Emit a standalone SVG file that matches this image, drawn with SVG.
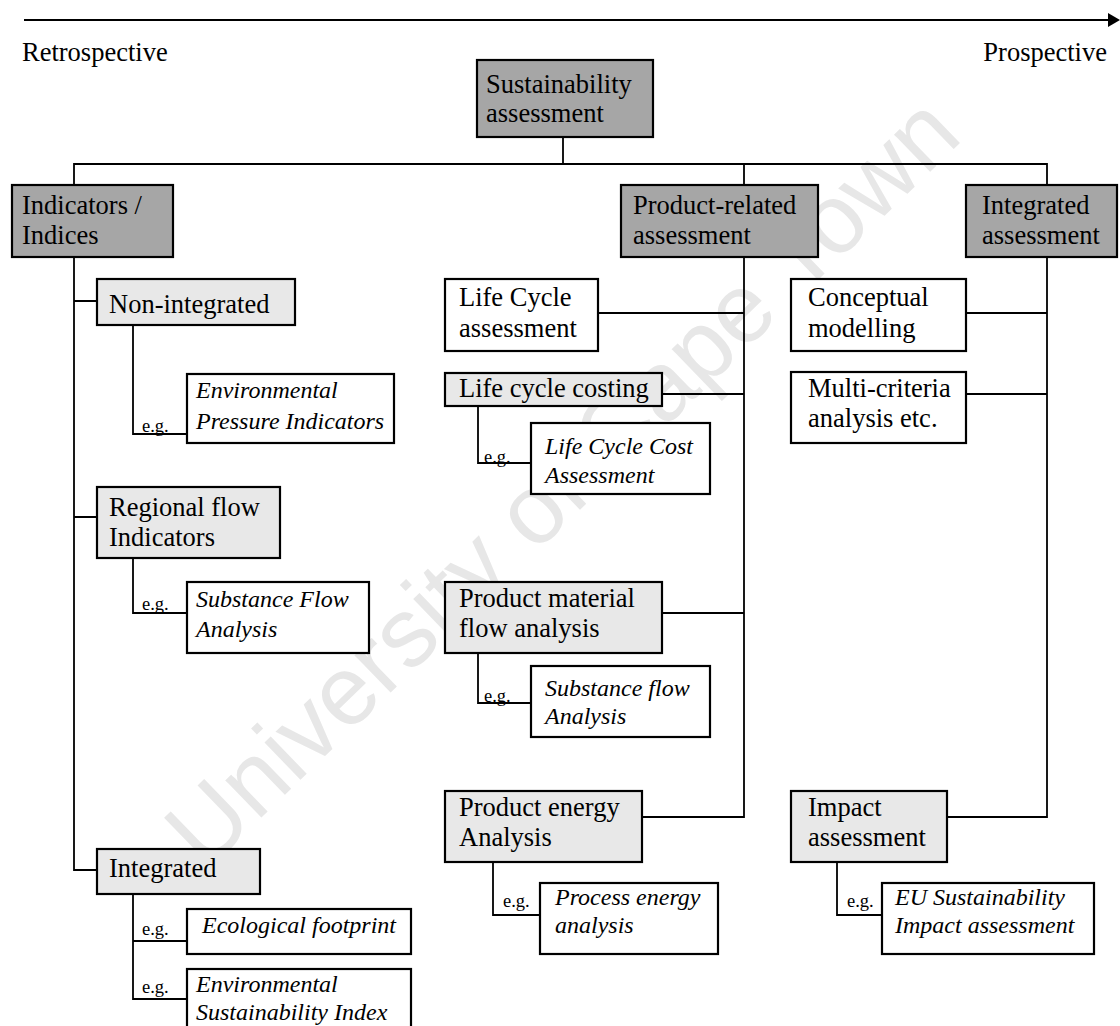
<svg xmlns="http://www.w3.org/2000/svg" width="1120" height="1026" viewBox="0 0 1120 1026">
  <defs>
    <marker id="head" markerWidth="12" markerHeight="14" refX="0" refY="7" orient="auto" markerUnits="userSpaceOnUse">
      <path d="M0,0 L12,7 L0,14 Z" fill="#000"/>
    </marker>
    <style>
      .dark { fill: #a6a6a6; stroke: #000; stroke-width: 2.2; }
      .light { fill: #e8e8e8; stroke: #000; stroke-width: 2.2; }
      .white { fill: #fff; stroke: #000; stroke-width: 2.2; }
      .wire { fill: none; stroke: #000; stroke-width: 1.8; }
      text { font-family: "Liberation Serif", "Times New Roman", serif; fill: #000; }
      .t { font-size: 26.5px; }
      .it { font-size: 24px; font-style: italic; }
      .eg { font-size: 18.5px; }
      .mark { font-family: "Liberation Sans", Arial, sans-serif; font-size: 98px; fill: #e7e7e7; }
    </style>
  </defs>

  <rect width="1120" height="1026" fill="#fff"/>

  <!-- watermark -->
  <text class="mark" text-anchor="middle" transform="translate(585,505) rotate(-44)">University of Cape Town</text>

  <!-- time axis -->
  <line x1="24" y1="20" x2="1108" y2="20" stroke="#000" stroke-width="2.2" marker-end="url(#head)"/>
  <text class="t" x="22" y="61">Retrospective</text>
  <text class="t" x="1107" y="61" text-anchor="end">Prospective</text>

  <!-- connectors -->
  <g id="connectors" class="wire">
    <path d="M563,137 V164 M74,185 V164 H1047 V185 M744,164 V185"/>
    <!-- indicators branch -->
    <path d="M74,257 V870 H97 M74,301 H97 M74,517 H97"/>
    <path d="M133,325 V434 H187"/>
    <path d="M133,558 V613 H187"/>
    <path d="M133,894 V999 H187 M133,941 H187"/>
    <!-- product-related branch -->
    <path d="M744,257 V817 H642 M598,313 H744 M662,394 H744 M662,613 H744"/>
    <path d="M478,406 V463 H531"/>
    <path d="M478,653 V703 H531"/>
    <path d="M493,862 V915 H540"/>
    <!-- integrated assessment branch -->
    <path d="M1047,257 V817 H947 M966,313 H1047 M966,394 H1047"/>
    <path d="M837,862 V915 H882"/>
  </g>

  <!-- root -->
  <g id="sustainability-assessment">
    <rect class="dark" x="477" y="60" width="176" height="77"/>
    <text class="t" x="486" y="93"><tspan>Sustainability</tspan><tspan x="486" y="122">assessment</tspan></text>
  </g>

  <!-- level 1 -->
  <g id="indicators-indices">
    <rect class="dark" x="12" y="185" width="161" height="72"/>
    <text class="t" x="22" y="214"><tspan>Indicators /</tspan><tspan x="22" y="244">Indices</tspan></text>
  </g>
  <g id="product-related-assessment">
    <rect class="dark" x="621" y="185" width="197" height="72"/>
    <text class="t" x="633" y="214"><tspan>Product-related</tspan><tspan x="633" y="244">assessment</tspan></text>
  </g>
  <g id="integrated-assessment">
    <rect class="dark" x="966" y="185" width="151" height="72"/>
    <text class="t" x="982" y="214"><tspan>Integrated</tspan><tspan x="982" y="244">assessment</tspan></text>
  </g>

  <!-- indicators / indices -->
  <g id="non-integrated">
    <rect class="light" x="97" y="279" width="198" height="46"/>
    <text class="t" x="109" y="313">Non-integrated</text>
  </g>
  <g id="environmental-pressure-indicators">
    <text class="eg" x="142" y="432">e.g.</text>
    <rect class="white" x="187" y="374" width="207" height="69"/>
    <text class="it" x="196" y="398"><tspan>Environmental</tspan><tspan x="196" y="429">Pressure Indicators</tspan></text>
  </g>
  <g id="regional-flow-indicators">
    <rect class="light" x="97" y="487" width="183" height="71"/>
    <text class="t" x="109" y="516"><tspan>Regional flow</tspan><tspan x="109" y="546">Indicators</tspan></text>
  </g>
  <g id="substance-flow-analysis-regional">
    <text class="eg" x="142" y="610">e.g.</text>
    <rect class="white" x="187" y="582" width="182" height="71"/>
    <text class="it" x="196" y="607"><tspan>Substance Flow</tspan><tspan x="196" y="637">Analysis</tspan></text>
  </g>
  <g id="integrated">
    <rect class="light" x="97" y="849" width="163" height="45"/>
    <text class="t" x="109" y="877">Integrated</text>
  </g>
  <g id="ecological-footprint">
    <text class="eg" x="142" y="935">e.g.</text>
    <rect class="white" x="187" y="909" width="224" height="45"/>
    <text class="it" x="299" y="933" text-anchor="middle">Ecological footprint</text>
  </g>
  <g id="environmental-sustainability-index">
    <text class="eg" x="142" y="993">e.g.</text>
    <rect class="white" x="187" y="969" width="224" height="64"/>
    <text class="it" x="196" y="992"><tspan>Environmental</tspan><tspan x="196" y="1020">Sustainability Index</tspan></text>
  </g>

  <!-- product-related -->
  <g id="life-cycle-assessment">
    <rect class="white" x="445" y="279" width="153" height="72"/>
    <text class="t" x="459" y="306"><tspan>Life Cycle</tspan><tspan x="459" y="337">assessment</tspan></text>
  </g>
  <g id="life-cycle-costing">
    <rect class="light" x="445" y="373" width="217" height="33"/>
    <text class="t" x="459" y="397">Life cycle costing</text>
  </g>
  <g id="life-cycle-cost-assessment">
    <text class="eg" x="484" y="463">e.g.</text>
    <rect class="white" x="531" y="423" width="179" height="71"/>
    <text class="it" x="545" y="454"><tspan>Life Cycle Cost</tspan><tspan x="545" y="483">Assessment</tspan></text>
  </g>
  <g id="product-material-flow-analysis">
    <rect class="light" x="445" y="582" width="217" height="71"/>
    <text class="t" x="459" y="607"><tspan>Product material</tspan><tspan x="459" y="637">flow analysis</tspan></text>
  </g>
  <g id="substance-flow-analysis-product">
    <text class="eg" x="484" y="702">e.g.</text>
    <rect class="white" x="531" y="666" width="179" height="71"/>
    <text class="it" x="545" y="696"><tspan>Substance flow</tspan><tspan x="545" y="724">Analysis</tspan></text>
  </g>
  <g id="product-energy-analysis">
    <rect class="light" x="445" y="791" width="197" height="71"/>
    <text class="t" x="459" y="816"><tspan>Product energy</tspan><tspan x="459" y="846">Analysis</tspan></text>
  </g>
  <g id="process-energy-analysis">
    <text class="eg" x="503" y="907">e.g.</text>
    <rect class="white" x="540" y="883" width="178" height="71"/>
    <text class="it" x="555" y="905"><tspan>Process energy</tspan><tspan x="555" y="933">analysis</tspan></text>
  </g>

  <!-- integrated assessment -->
  <g id="conceptual-modelling">
    <rect class="white" x="791" y="279" width="175" height="72"/>
    <text class="t" x="808" y="306"><tspan>Conceptual</tspan><tspan x="808" y="337">modelling</tspan></text>
  </g>
  <g id="multi-criteria-analysis">
    <rect class="white" x="791" y="372" width="175" height="71"/>
    <text class="t" x="808" y="397"><tspan>Multi-criteria</tspan><tspan x="808" y="427">analysis etc.</tspan></text>
  </g>
  <g id="impact-assessment">
    <rect class="light" x="791" y="791" width="156" height="71"/>
    <text class="t" x="808" y="816"><tspan>Impact</tspan><tspan x="808" y="846">assessment</tspan></text>
  </g>
  <g id="eu-sustainability-impact-assessment">
    <text class="eg" x="847" y="907">e.g.</text>
    <rect class="white" x="882" y="883" width="212" height="71"/>
    <text class="it" x="895" y="905"><tspan>EU Sustainability</tspan><tspan x="895" y="933">Impact assessment</tspan></text>
  </g>
</svg>
